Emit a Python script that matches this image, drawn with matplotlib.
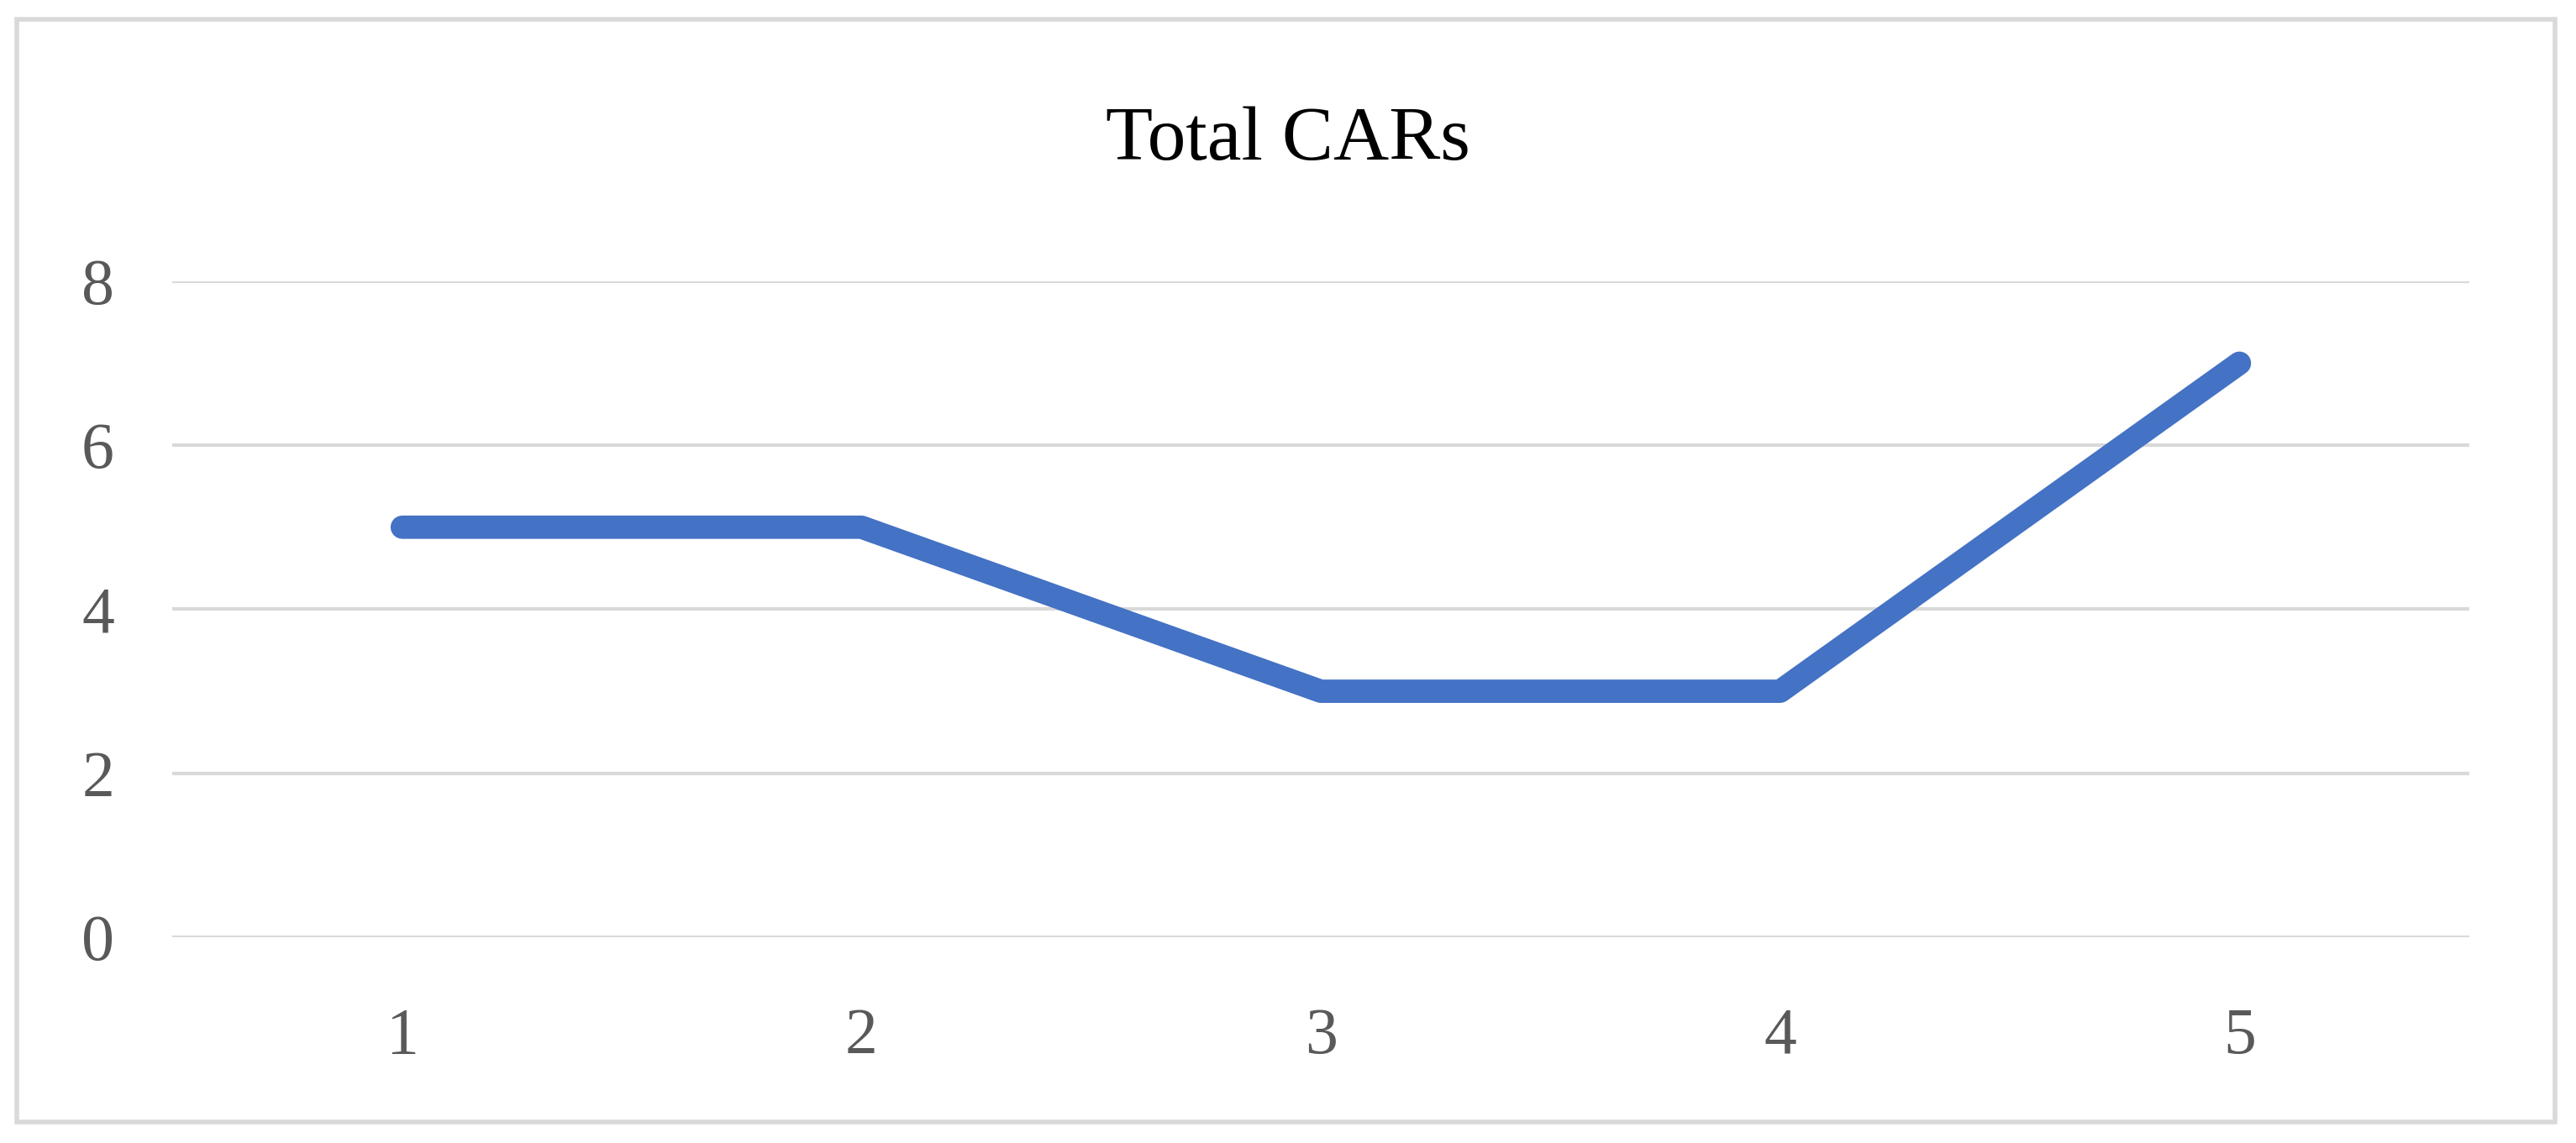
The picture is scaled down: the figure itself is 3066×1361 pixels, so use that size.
import matplotlib.pyplot as plt
from matplotlib.patches import Rectangle

periods = [1, 2, 3, 4, 5]
total_cars = [5, 5, 3, 3, 7]
y_ticks = [0, 2, 4, 6, 8]

plt.rcParams['font.family'] = ['Liberation Serif', 'DejaVu Serif']

fig = plt.figure(figsize=(30.66, 13.61), dpi=100)
ax = fig.add_axes([0.067, 0.180, 0.8915, 0.574])

for y in y_ticks:
    ax.axhline(y, color='#d9d9d9', lw=3, zorder=0)
ax.plot(periods, total_cars, color='#4472c4', lw=20, solid_capstyle='round',
        solid_joinstyle='round')

ax.set_xlim(0.5, 5.5)
ax.set_ylim(0, 8)
ax.set_xticks(periods)
ax.set_yticks(y_ticks)
ax.tick_params(length=0, labelsize=56, labelcolor='#595959')
ax.tick_params(axis='x', pad=60)
ax.tick_params(axis='y', pad=50)
for s in ax.spines.values():
    s.set_visible(False)

fig.text(0.5, 0.877, 'Total CARs', ha='center', va='center', fontsize=66, color='black')
fig.patches.append(Rectangle((10/1568, 1 - 683/696), 1545/1568, 671/696,
                             transform=fig.transFigure, fill=False,
                             edgecolor='#d9d9d9', lw=4))

fig.savefig('out.png', dpi=100, facecolor='white')
